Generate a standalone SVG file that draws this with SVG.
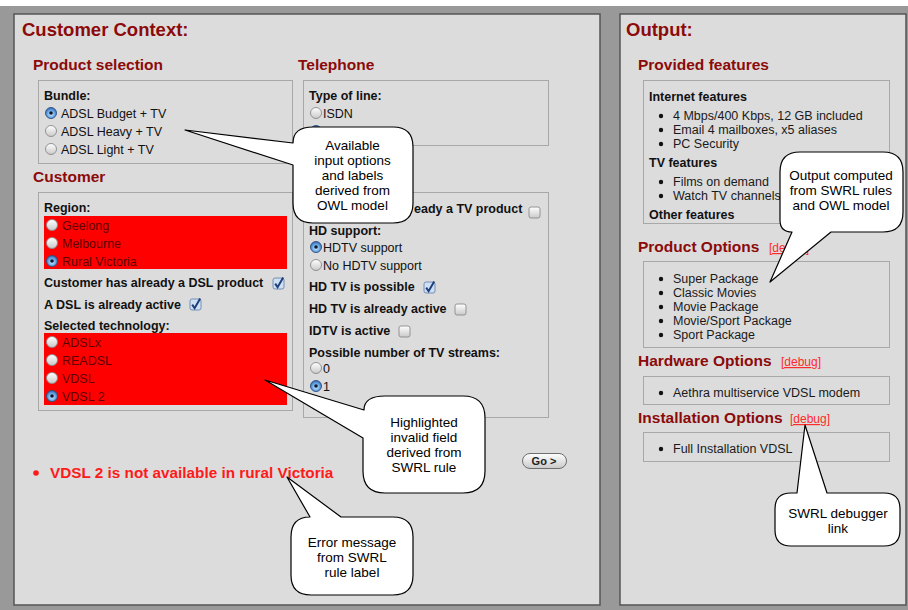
<svg xmlns="http://www.w3.org/2000/svg" xmlns:xlink="http://www.w3.org/1999/xlink" width="908" height="610" viewBox="0 0 908 610">
<style>
text{font-family:"Liberation Sans",Arial,sans-serif}
.h1{font-size:18.5px;font-weight:bold;fill:#8c0a0a}
.h2{font-size:15.5px;font-weight:bold;fill:#8c0a0a}
.lb{font-size:12.5px;font-weight:bold;fill:#111}
.op{font-size:12.5px;fill:#111}
.opr{font-size:12.5px;fill:#5c0000}
.li{font-size:12.5px;fill:#1a1a1a}
.dbg{font-size:12px;fill:#ff2a2a;text-decoration:underline}
.err{font-size:15.3px;font-weight:bold;fill:#ff1a1a}
.co{font-size:13.5px;fill:#000;text-anchor:middle}
.box{fill:none;stroke:#a8a8a8;stroke-width:1}
.panel{fill:#dcdcdc;stroke:#555;stroke-width:1.5}
.red{fill:#ff0000}
.callout{fill:#fff;stroke:#000;stroke-width:1.2;stroke-linejoin:round}
</style>
<defs>
<linearGradient id="gw" x1="0" y1="0" x2="0" y2="1"><stop offset="0" stop-color="#ffffff"/><stop offset="1" stop-color="#c9c9c9"/></linearGradient>
<radialGradient id="gb" cx="0.5" cy="0.6" r="0.6"><stop offset="0" stop-color="#d6ecff"/><stop offset="0.55" stop-color="#6aa8e6"/><stop offset="1" stop-color="#2c63ac"/></radialGradient>
<g id="r0"><circle cx="0" cy="0" r="5.5" fill="url(#gw)" stroke="#8a8a8a" stroke-width="0.9"/></g>
<g id="r1"><circle cx="0" cy="0" r="5.5" fill="url(#gb)" stroke="#2d4f80" stroke-width="0.9"/><circle cx="0" cy="0" r="1.8" fill="#0d1a30"/></g>
<g id="c0"><rect x="0" y="0" width="11" height="11" rx="2" fill="url(#gw)" stroke="#8a8a8a" stroke-width="0.9"/></g>
<g id="c1"><rect x="0" y="0" width="11" height="11" rx="2" fill="#cfe0f4" stroke="#6a86b0" stroke-width="0.9"/><path d="M2.2,5.6 L4.6,9.2 L10.2,-0.5" fill="none" stroke="#1e3f7a" stroke-width="2"/></g>
</defs>

<rect x="0" y="0" width="908" height="610" fill="#ffffff"/>
<rect x="0" y="6" width="908" height="604" fill="#999999"/>

<g id="left-panel">
<rect class="panel" x="14" y="14" width="586" height="591"/>
<text class="h1" x="22" y="36">Customer Context:</text>
</g>

<g id="product-selection">
<text class="h2" x="33" y="70">Product selection</text>
<rect class="box" x="38.5" y="80.5" width="254" height="83"/>
<text class="lb" x="44" y="100">Bundle:</text>
<use xlink:href="#r1" x="51" y="113"/><text class="op" x="61" y="117.5">ADSL Budget + TV</text>
<use xlink:href="#r0" x="51" y="131"/><text class="op" x="61" y="135.5">ADSL Heavy + TV</text>
<use xlink:href="#r0" x="51" y="149"/><text class="op" x="61" y="153.5">ADSL Light + TV</text>
</g>

<g id="customer">
<text class="h2" x="33" y="182">Customer</text>
<rect class="box" x="38.5" y="192.5" width="254" height="218"/>
<text class="lb" x="44" y="212">Region:</text>
<rect class="red" x="44" y="216" width="243" height="53"/>
<use xlink:href="#r0" x="52" y="225"/><text class="opr" x="62" y="229.5">Geelong</text>
<use xlink:href="#r0" x="52" y="243"/><text class="opr" x="62" y="247.5">Melbourne</text>
<use xlink:href="#r1" x="52" y="261"/><text class="opr" x="62" y="265.5">Rural Victoria</text>
<text class="lb" x="44" y="287">Customer has already a DSL product</text>
<use xlink:href="#c1" x="273" y="278"/>
<text class="lb" x="44" y="309">A DSL is already active</text>
<use xlink:href="#c1" x="190" y="299"/>
<text class="lb" x="44" y="330">Selected technology:</text>
<rect class="red" x="44" y="333" width="243" height="72"/>
<use xlink:href="#r0" x="52" y="342"/><text class="opr" x="62" y="346.5">ADSLx</text>
<use xlink:href="#r0" x="52" y="360"/><text class="opr" x="62" y="364.5">READSL</text>
<use xlink:href="#r0" x="52" y="378"/><text class="opr" x="62" y="382.5">VDSL</text>
<use xlink:href="#r1" x="52" y="396"/><text class="opr" x="62" y="400.5">VDSL 2</text>
</g>

<g id="telephone">
<text class="h2" x="298" y="70">Telephone</text>
<rect class="box" x="303.5" y="80.5" width="245" height="65"/>
<text class="lb" x="309" y="100">Type of line:</text>
<use xlink:href="#r0" x="316" y="113"/><text class="op" x="323" y="117.5">ISDN</text>
<use xlink:href="#r1" x="316" y="131"/>
</g>

<g id="tv">
<rect class="box" x="303.5" y="192.5" width="245" height="225"/>
<text class="lb" x="414" y="213">eady a TV product</text>
<use xlink:href="#c0" x="529" y="207"/>
<text class="lb" x="309" y="235">HD support:</text>
<use xlink:href="#r1" x="316" y="247"/><text class="op" x="323" y="251.5">HDTV support</text>
<use xlink:href="#r0" x="316" y="265"/><text class="op" x="323" y="269.5">No HDTV support</text>
<text class="lb" x="309" y="291">HD TV is possible</text>
<use xlink:href="#c1" x="424" y="282"/>
<text class="lb" x="309" y="313">HD TV is already active</text>
<use xlink:href="#c0" x="455" y="304"/>
<text class="lb" x="309" y="335">IDTV is active</text>
<use xlink:href="#c0" x="399" y="326"/>
<text class="lb" x="309" y="357">Possible number of TV streams:</text>
<use xlink:href="#r0" x="316" y="368"/><text class="op" x="323" y="372.5">0</text>
<use xlink:href="#r1" x="316" y="386"/><text class="op" x="323" y="390.5">1</text>
<use xlink:href="#r0" x="316" y="404"/>
</g>

<g id="error-message">
<circle cx="36" cy="473" r="2.8" fill="#ff1a1a"/>
<text class="err" x="50" y="477.5">VDSL 2 is not available in rural Victoria</text>
</g>

<g id="go-button">
<rect x="522.5" y="453.5" width="44" height="15" rx="7.5" fill="url(#gw)" stroke="#6e6e6e" stroke-width="1"/>
<text x="544" y="465" text-anchor="middle" style="font-size:11px;font-weight:bold;fill:#222">Go &gt;</text>
</g>

<g id="right-panel">
<rect class="panel" x="620" y="14" width="286" height="591"/>
<text class="h1" x="626" y="36">Output:</text>
</g>

<g id="provided-features">
<text class="h2" x="638" y="70">Provided features</text>
<rect class="box" x="643.5" y="80.5" width="246" height="143"/>
<text class="lb" x="649" y="101">Internet features</text>
<circle cx="661" cy="116" r="2.2" fill="#111"/><text class="li" x="673" y="120">4 Mbps/400 Kbps, 12 GB included</text>
<circle cx="661" cy="130" r="2.2" fill="#111"/><text class="li" x="673" y="134">Email 4 mailboxes, x5 aliases</text>
<circle cx="661" cy="144" r="2.2" fill="#111"/><text class="li" x="673" y="148">PC Security</text>
<text class="lb" x="649" y="167">TV features</text>
<circle cx="661" cy="182" r="2.2" fill="#111"/><text class="li" x="673" y="186">Films on demand</text>
<circle cx="661" cy="196" r="2.2" fill="#111"/><text class="li" x="673" y="200">Watch TV channels</text>
<text class="lb" x="649" y="219">Other features</text>
</g>

<g id="product-options">
<text class="h2" x="638" y="252">Product Options</text>
<text class="dbg" x="769" y="252">[debug]</text>
<rect class="box" x="643.5" y="261.5" width="246" height="86"/>
<circle cx="661" cy="279" r="2.2" fill="#111"/><text class="li" x="673" y="283">Super Package</text>
<circle cx="661" cy="293" r="2.2" fill="#111"/><text class="li" x="673" y="297">Classic Movies</text>
<circle cx="661" cy="307" r="2.2" fill="#111"/><text class="li" x="673" y="311">Movie Package</text>
<circle cx="661" cy="321" r="2.2" fill="#111"/><text class="li" x="673" y="325">Movie/Sport Package</text>
<circle cx="661" cy="335" r="2.2" fill="#111"/><text class="li" x="673" y="339">Sport Package</text>
</g>

<g id="hardware-options">
<text class="h2" x="638" y="366">Hardware Options</text>
<text class="dbg" x="781" y="366">[debug]</text>
<rect class="box" x="643.5" y="376.5" width="246" height="28"/>
<circle cx="661" cy="393" r="2.2" fill="#111"/><text class="li" x="673" y="397">Aethra multiservice VDSL modem</text>
</g>

<g id="installation-options">
<text class="h2" x="638" y="423">Installation Options</text>
<text class="dbg" x="790" y="423">[debug]</text>
<rect class="box" x="643.5" y="432.5" width="246" height="29"/>
<circle cx="661" cy="449" r="2.2" fill="#111"/><text class="li" x="673" y="453">Full Installation VDSL</text>
</g>

<g id="connectors">
<g id="callout-owl">
<path class="callout" d="M293,143 Q293,127 313,127 L393,127 Q413,127 413,147 L413,203 Q413,223 393,223 L313,223 Q293,223 293,203 L293,165 L185,130 Z"/>
<text class="co" x="352.5" y="150">Available</text>
<text class="co" x="352.5" y="165">input options</text>
<text class="co" x="352.5" y="180">and labels</text>
<text class="co" x="352.5" y="195">derived from</text>
<text class="co" x="352.5" y="210">OWL model</text>
</g>
<g id="callout-invalid">
<path class="callout" d="M364,410 C364,400 372,396 385,396 L463,396 Q485,396 485,418 L485,471 Q485,493 463,493 L385,493 Q363,493 363,471 L363,438 L265,380 Z"/>
<text class="co" x="424" y="427">Highlighted</text>
<text class="co" x="424" y="442">invalid field</text>
<text class="co" x="424" y="457">derived from</text>
<text class="co" x="424" y="472">SWRL rule</text>
</g>
<g id="callout-error">
<path class="callout" d="M341,517 L393,517 Q413,517 413,537 L413,575 Q413,595 393,595 L311,595 Q291,595 291,575 L291,537 Q291,517 310,517 L287,477 Z"/>
<text class="co" x="352" y="547">Error message</text>
<text class="co" x="352" y="562">from SWRL</text>
<text class="co" x="352" y="577">rule label</text>
</g>
<g id="callout-output">
<path class="callout" d="M800,152 L883,152 Q903,152 903,172 L903,212 Q903,232 883,232 L831,232 L770,282 L792,232 Q780,232 780,220 L780,172 Q780,152 800,152 Z"/>
<text class="co" x="841" y="180">Output computed</text>
<text class="co" x="841" y="195">from SWRL rules</text>
<text class="co" x="841" y="210">and OWL model</text>
</g>
<g id="callout-debug">
<path class="callout" d="M791,493 L797,493 L805,425 L827,493 L884,493 Q900,493 900,509 L900,530 Q900,546 884,546 L791,546 Q775,546 775,530 L775,509 Q775,493 791,493 Z"/>
<text class="co" x="838" y="518">SWRL debugger</text>
<text class="co" x="838" y="533">link</text>
</g>
</g>
</svg>
